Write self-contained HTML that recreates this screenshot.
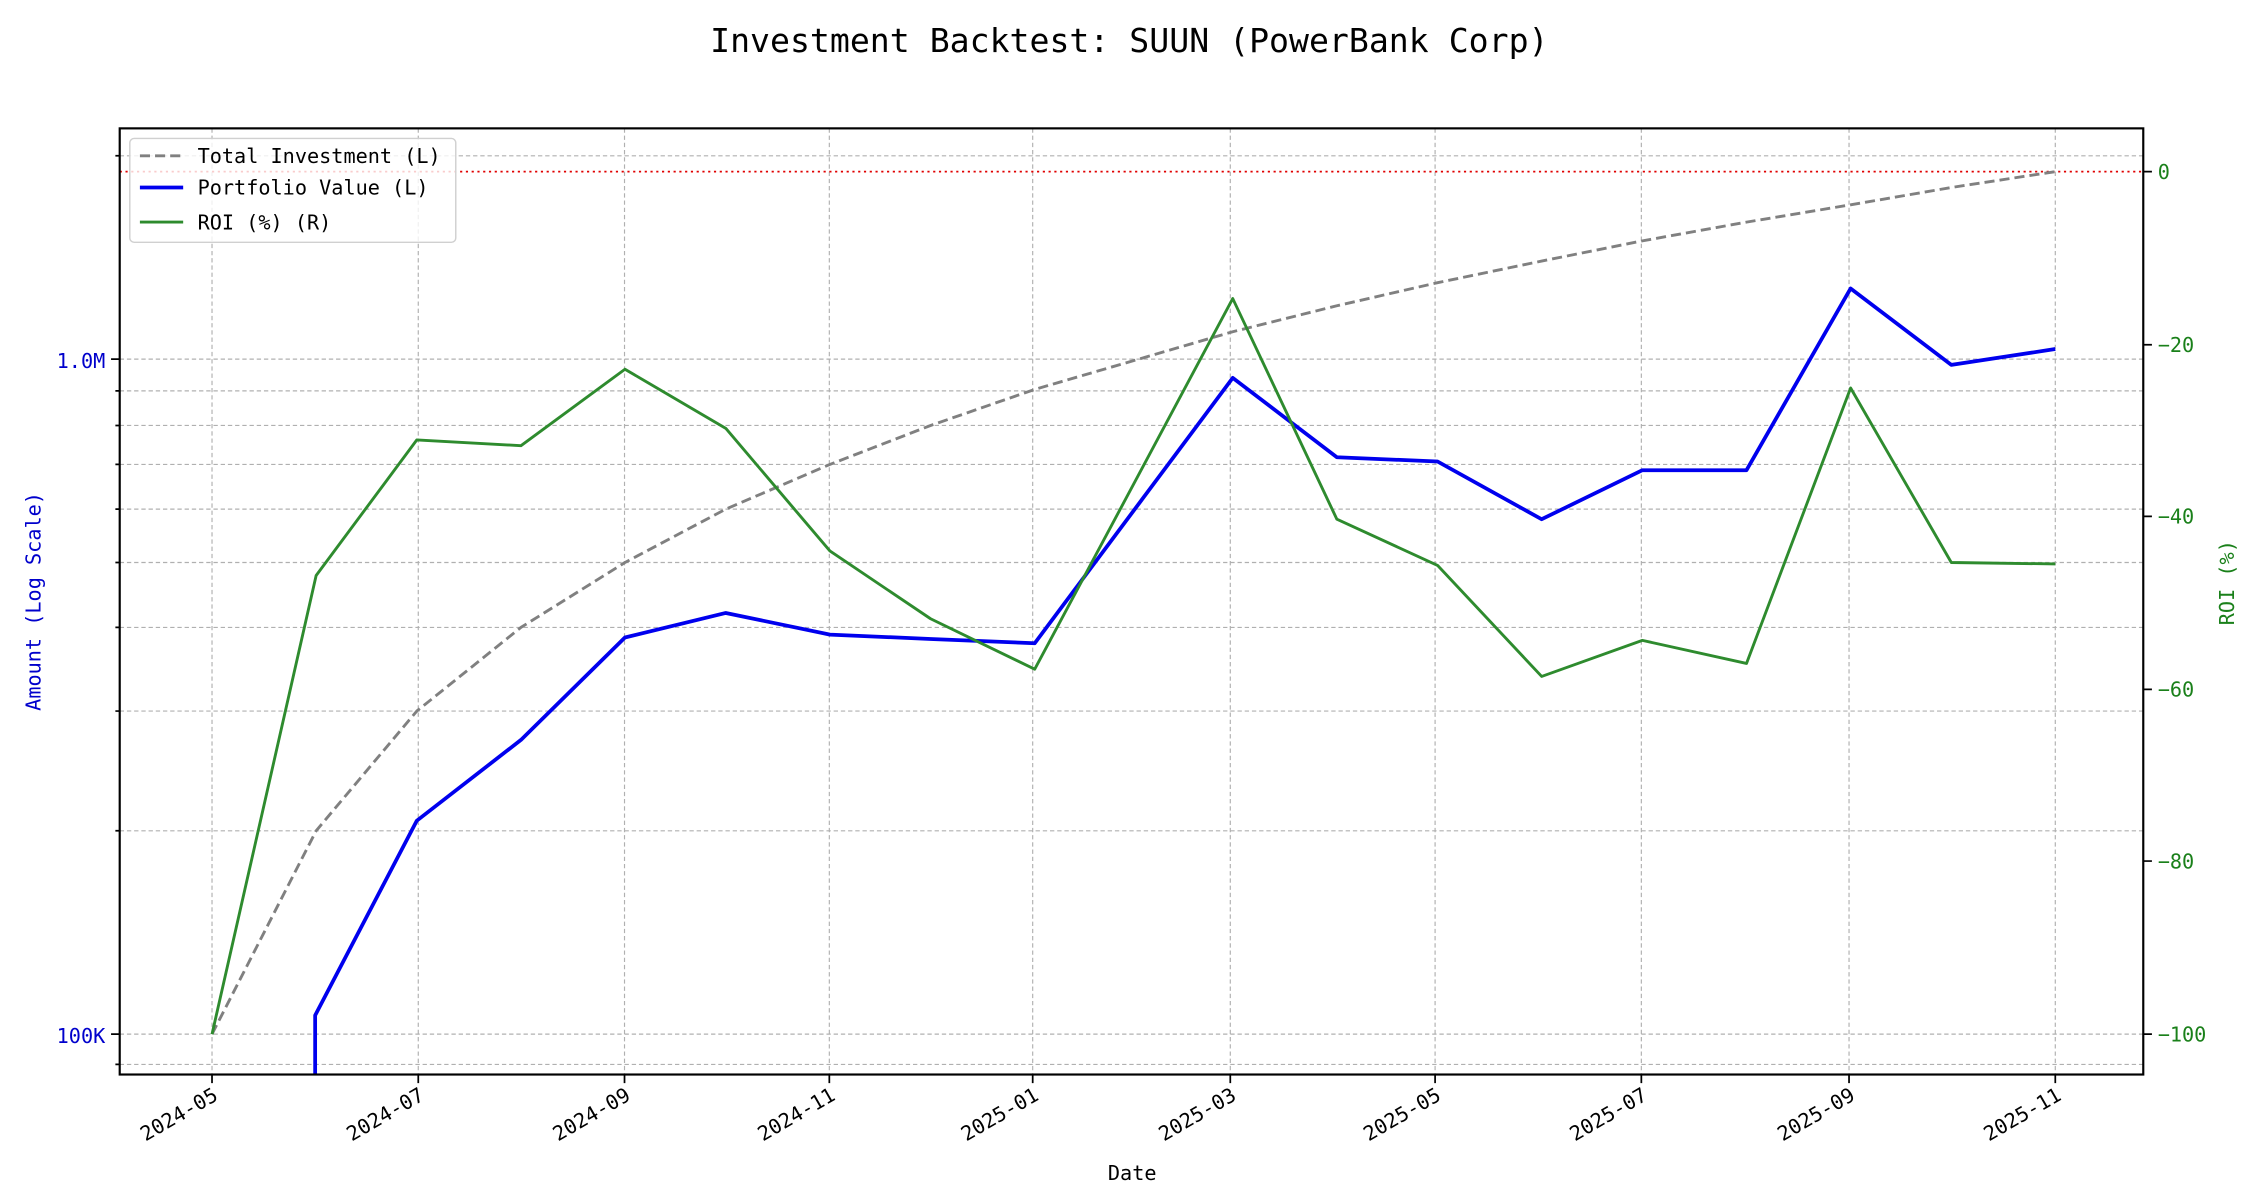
<!DOCTYPE html>
<html><head><meta charset="utf-8"><style>html,body{margin:0;padding:0;background:#fff}svg{display:block}</style></head><body>
<svg width="2250" height="1200" viewBox="0 0 1560 832" xmlns="http://www.w3.org/2000/svg" font-family="'DejaVu Sans Mono','Liberation Mono',monospace">
<rect width="1560" height="832" fill="#fff"/>
<defs><clipPath id="c"><rect x="83" y="89" width="1403" height="656"/></clipPath></defs>
<text x="783" y="36" font-size="23" text-anchor="middle" fill="#000">Investment Backtest: SUUN (PowerBank Corp)</text>
<g stroke="#b0b0b0" stroke-width="0.8" stroke-dasharray="3,2" fill="none">
<path d="M83 108H1486M83 249H1486M83 271H1486M83 295H1486M83 322H1486M83 353H1486M83 390H1486M83 435H1486M83 493H1486M83 576H1486M83 717H1486M83 738H1486"/>
<path d="M147 89V745M290 89V745M433 89V745M575 89V745M716 89V745M853 89V745M995 89V745M1138 89V745M1282 89V745M1425 89V745"/>
</g>
<g clip-path="url(#c)" fill="none" stroke-linejoin="round">
<line x1="83" y1="119" x2="1486" y2="119" stroke="#e00000" stroke-width="1.2" stroke-dasharray="1.5,2.5"/>
<polyline stroke="#808080" stroke-width="2" stroke-dasharray="7,3.5" points="147,717 219.2,576 289,493 361.2,435 433.3,390 503.2,353 575.4,322 645.2,295 717.4,270 789.5,249 854.7,230 926.9,212 996.7,196 1068.9,181 1138.7,167 1210.9,154 1283.1,142 1352.9,130 1425,119"/>
<polyline stroke="#0000ee" stroke-width="2.6" points="218.5,760 218.5,704 289,569 361.2,513 433.3,442 503.2,425 575.4,440 645.2,443 717.4,446 854.7,262 926.9,317 996.7,320 1068.9,360 1138.7,326 1210.9,326 1283.1,200 1352.9,253 1425,242"/>
<polyline stroke="#2e8b2e" stroke-width="2" points="147,717 219.2,399 289,305 361.2,309 433.3,256 503.2,297 575.4,382 645.2,429 717.4,464 854.7,207 926.9,360 996.7,392 1068.9,469 1138.7,444 1210.9,460 1283.1,269 1352.9,390 1425,391"/>
</g>
<rect x="83" y="89" width="1403" height="656" fill="none" stroke="#000" stroke-width="1.5"/>
<g stroke="#000" stroke-width="1.2">
<path d="M77 249H83M77 717H83M80 108H83M80 271H83M80 295H83M80 322H83M80 353H83M80 390H83M80 435H83M80 493H83M80 576H83M80 738H83"/>
<path d="M1486 119H1492M1486 239H1492M1486 358H1492M1486 478H1492M1486 597H1492M1486 717H1492"/>
<path d="M147 745V751M290 745V751M433 745V751M575 745V751M716 745V751M853 745V751M995 745V751M1138 745V751M1282 745V751M1425 745V751"/>
</g>
<g font-size="14" fill="#0000cc" text-anchor="end">
<text x="73" y="255">1.0M</text><text x="73" y="723">100K</text>
</g>
<g font-size="14" fill="#1a801a">
<text x="1496" y="124">0</text><text x="1496" y="244">−20</text><text x="1496" y="363">−40</text><text x="1496" y="483">−60</text><text x="1496" y="602">−80</text><text x="1496" y="722">−100</text>
</g>
<g font-size="14" fill="#000" text-anchor="end">
<text transform="translate(152,762) rotate(-30)">2024-05</text>
<text transform="translate(295,762) rotate(-30)">2024-07</text>
<text transform="translate(438,762) rotate(-30)">2024-09</text>
<text transform="translate(580,762) rotate(-30)">2024-11</text>
<text transform="translate(721,762) rotate(-30)">2025-01</text>
<text transform="translate(858,762) rotate(-30)">2025-03</text>
<text transform="translate(1000,762) rotate(-30)">2025-05</text>
<text transform="translate(1143,762) rotate(-30)">2025-07</text>
<text transform="translate(1287,762) rotate(-30)">2025-09</text>
<text transform="translate(1430,762) rotate(-30)">2025-11</text>
</g>
<text x="785" y="818" font-size="14" text-anchor="middle">Date</text>
<text transform="translate(28,417) rotate(-90)" font-size="14" fill="#0000cc" text-anchor="middle">Amount (Log Scale)</text>
<text transform="translate(1549,404) rotate(-90)" font-size="14" fill="#1a801a" text-anchor="middle">ROI (%)</text>
<rect x="90" y="96" width="226" height="72" rx="3" fill="#fff" fill-opacity="0.8" stroke="#d0d0d0" stroke-width="1"/>
<line x1="97" y1="108" x2="127" y2="108" stroke="#808080" stroke-width="2" stroke-dasharray="7,3.5"/>
<line x1="97" y1="130" x2="127" y2="130" stroke="#0000ee" stroke-width="2.6"/>
<line x1="97" y1="154" x2="127" y2="154" stroke="#2e8b2e" stroke-width="2"/>
<g font-size="14" fill="#000">
<text x="137" y="113">Total Investment (L)</text>
<text x="137" y="135">Portfolio Value (L)</text>
<text x="137" y="159">ROI (%) (R)</text>
</g>
</svg>
</body></html>
